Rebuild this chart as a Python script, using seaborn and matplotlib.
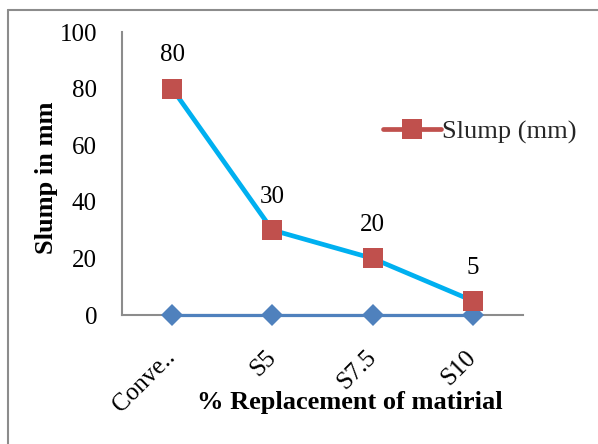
import matplotlib
matplotlib.use("Agg")
import matplotlib.pyplot as plt
from matplotlib.lines import Line2D
import seaborn as sns
import pandas as pd

categories = ["Conve..", "S5", "S7.5", "S10"]
slump = [80, 30, 20, 5]
baseline = [0, 0, 0, 0]
yticks = [0, 20, 40, 60, 80, 100]

sns.set_theme(style="white")
plt.rcParams['font.family'] = ['Liberation Serif', 'DejaVu Serif']

df = pd.DataFrame({"cat": categories, "slump": slump, "base": baseline})

fig = plt.figure(figsize=(5.98, 4.44), dpi=100)
ax = fig.add_axes([122/598, 1-315/444, (523-122)/598, (315-32)/444])

blue = "#4F81BD"
cyan = "#00B0F0"
red = "#C0504D"

for s in ["top", "right"]:
    ax.spines[s].set_visible(False)
for s in ["left", "bottom"]:
    ax.spines[s].set_color("#8C8C8C")
    ax.spines[s].set_linewidth(1.5)

sns.lineplot(data=df, x="cat", y="base", ax=ax, color=blue, linewidth=2.3,
             marker="D", markersize=11, markeredgewidth=0, sort=False,
             zorder=5, clip_on=False)
sns.lineplot(data=df, x="cat", y="slump", ax=ax, color=cyan, linewidth=3.4,
             marker="s", markersize=14, markerfacecolor=red, markeredgewidth=0,
             sort=False, zorder=6, clip_on=False)

for i, v in enumerate(slump):
    ax.annotate(str(v), (i, v), xytext=(0, 24), textcoords="offset points",
                ha="center", va="center", fontsize=18, color="black")

ax.set_xlim(-0.5, 3.5)
ax.set_ylim(0, 100)
ax.set_yticks(yticks)
ax.set_yticklabels([str(t) for t in yticks])
ax.tick_params(axis="y", length=0, pad=18, labelsize=18, colors="black")
ax.tick_params(axis="x", length=0, pad=28, labelsize=18, colors="black")
for lbl in ax.get_xticklabels():
    lbl.set_rotation(45)
    lbl.set_ha("right")
    lbl.set_va("center")
    lbl.set_rotation_mode("anchor")

ax.set_xlabel("% Replacement of matirial", fontsize=19, fontweight="bold", color="black")
ax.set_ylabel("Slump in mm", fontsize=19, fontweight="bold", color="black")
ax.xaxis.set_label_coords((350-122)/401, (315-403)/283)
ax.xaxis.label.set_va("center")
ax.yaxis.set_label_coords((47-122)/401, (315-178)/283)
ax.yaxis.label.set_va("center")

handle = Line2D([], [], color=red, linewidth=3.4, marker="s", markersize=14,
                markerfacecolor=red, markeredgewidth=0)
leg = ax.legend([handle], ["Slump (mm)"], loc="center left",
                bbox_to_anchor=(383/598, 1-132/444), bbox_transform=fig.transFigure,
                frameon=False, fontsize=19, handlelength=2.2, handletextpad=0.05,
                borderpad=0, borderaxespad=0)

# outer chart frame
fig.add_artist(Line2D([7.5/598, 7.5/598], [0, 1-10.5/444], transform=fig.transFigure,
                      color="#8C8C8C", linewidth=1.5))
fig.add_artist(Line2D([7.5/598, 1], [1-10.5/444, 1-10.5/444], transform=fig.transFigure,
                      color="#8C8C8C", linewidth=1.5))

fig.savefig("out.png", dpi=100)
